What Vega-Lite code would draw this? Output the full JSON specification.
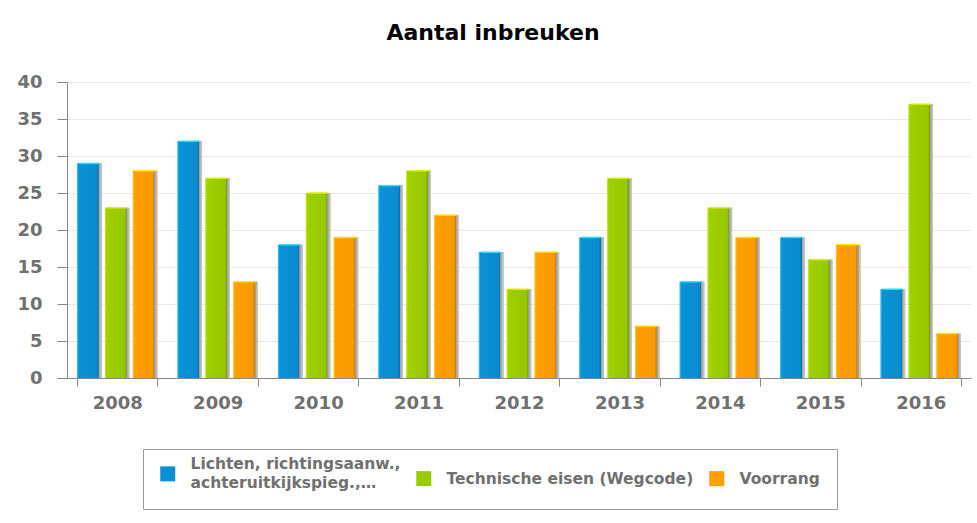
{
  "$schema": "https://vega.github.io/schema/vega-lite/v6.json",
  "width": 904,
  "height": 296,
  "autosize": {"type": "none"},
  "padding": {"left": 67, "top": 82, "right": 6, "bottom": 145},
  "background": "white",
  "title": {"text": "Aantal inbreuken", "font": "DejaVu Sans", "fontSize": 22, "fontWeight": "bold", "color": "#000000", "offset": 28, "dx": -26, "anchor": "middle"},
  "data": {"values": [
    {"year": "2008", "series": "Lichten, richtingsaanw., achteruitkijkspieg.,…", "value": 29},
    {"year": "2008", "series": "Technische eisen (Wegcode)", "value": 23},
    {"year": "2008", "series": "Voorrang", "value": 28},
    {"year": "2009", "series": "Lichten, richtingsaanw., achteruitkijkspieg.,…", "value": 32},
    {"year": "2009", "series": "Technische eisen (Wegcode)", "value": 27},
    {"year": "2009", "series": "Voorrang", "value": 13},
    {"year": "2010", "series": "Lichten, richtingsaanw., achteruitkijkspieg.,…", "value": 18},
    {"year": "2010", "series": "Technische eisen (Wegcode)", "value": 25},
    {"year": "2010", "series": "Voorrang", "value": 19},
    {"year": "2011", "series": "Lichten, richtingsaanw., achteruitkijkspieg.,…", "value": 26},
    {"year": "2011", "series": "Technische eisen (Wegcode)", "value": 28},
    {"year": "2011", "series": "Voorrang", "value": 22},
    {"year": "2012", "series": "Lichten, richtingsaanw., achteruitkijkspieg.,…", "value": 17},
    {"year": "2012", "series": "Technische eisen (Wegcode)", "value": 12},
    {"year": "2012", "series": "Voorrang", "value": 17},
    {"year": "2013", "series": "Lichten, richtingsaanw., achteruitkijkspieg.,…", "value": 19},
    {"year": "2013", "series": "Technische eisen (Wegcode)", "value": 27},
    {"year": "2013", "series": "Voorrang", "value": 7},
    {"year": "2014", "series": "Lichten, richtingsaanw., achteruitkijkspieg.,…", "value": 13},
    {"year": "2014", "series": "Technische eisen (Wegcode)", "value": 23},
    {"year": "2014", "series": "Voorrang", "value": 19},
    {"year": "2015", "series": "Lichten, richtingsaanw., achteruitkijkspieg.,…", "value": 19},
    {"year": "2015", "series": "Technische eisen (Wegcode)", "value": 16},
    {"year": "2015", "series": "Voorrang", "value": 18},
    {"year": "2016", "series": "Lichten, richtingsaanw., achteruitkijkspieg.,…", "value": 12},
    {"year": "2016", "series": "Technische eisen (Wegcode)", "value": 37},
    {"year": "2016", "series": "Voorrang", "value": 6}
  ]},
  "encoding": {
    "x": {
      "field": "year", "type": "nominal",
      "scale": {"paddingInner": 0.2, "paddingOuter": 0.1},
      "axis": {"title": null, "labelAngle": 0, "tickBand": "extent", "tickSize": 8, "tickColor": "#888888", "domainColor": "#888888", "labelFont": "DejaVu Sans", "labelFontWeight": "bold", "labelFontSize": 18, "labelColor": "#707070", "labelPadding": 8, "grid": false}
    },
    "xOffset": {
      "field": "series",
      "scale": {"domain": ["Lichten, richtingsaanw., achteruitkijkspieg.,…", "Technische eisen (Wegcode)", "Voorrang"], "paddingInner": 0.12}
    },
    "y": {
      "field": "value", "type": "quantitative",
      "scale": {"domain": [0, 40]},
      "axis": {"title": null, "values": [0, 5, 10, 15, 20, 25, 30, 35, 40], "tickSize": 10, "labelPadding": 15, "gridColor": "#e6e6e6", "domainColor": "#888888", "tickColor": "#888888", "labelFont": "DejaVu Sans", "labelFontWeight": "bold", "labelFontSize": 18, "labelColor": "#707070"}
    }
  },
  "layer": [
    {
      "mark": {"type": "bar"},
      "encoding": {
        "color": {
          "field": "series", "type": "nominal",
          "scale": {"domain": ["Lichten, richtingsaanw., achteruitkijkspieg.,…", "Technische eisen (Wegcode)", "Voorrang"], "range": ["#0a8fd3", "#99cc00", "#ffa000"]},
          "legend": {
            "orient": "none", "legendX": 76, "legendY": 367, "direction": "horizontal", "columns": 3, "title": null,
            "strokeColor": "#999999", "padding": 17,
            "symbolType": "square", "symbolSize": 225, "symbolStrokeWidth": 0, "symbolOpacity": 1,
            "labelOffset": 15, "columnPadding": 15,
            "labelFont": "DejaVu Sans", "labelFontSize": 15.5, "labelFontWeight": "bold", "labelColor": "#707070", "labelLimit": 400,
            "labelExpr": "indexof(datum.label, 'achter') > 0 ? ['Lichten, richtingsaanw.,', 'achteruitkijkspieg.,…'] : datum.label",
            "encoding": {"labels": {"lineHeight": {"value": 19}, "dy": {"condition": {"test": "indexof(datum.value, 'achter') > 0", "value": -9.5}, "value": 0}}}
          }
        }
      }
    },
    {
      "mark": {"type": "bar"},
      "encoding": {
        "fill": {
          "condition": [
            {"test": "datum.series == 'Voorrang'", "value": {"gradient": "linear", "x1": 0, "y1": 0, "x2": 1, "y2": 0, "stops": [{"offset": 0, "color": "#ffd040"}, {"offset": 0.06, "color": "#ffa000"}, {"offset": 0.8, "color": "#f59a00"}, {"offset": 0.87, "color": "#d08000"}, {"offset": 0.88, "color": "#9a9a9a"}, {"offset": 1, "color": "#d0d0d0"}]}},
            {"test": "datum.series == 'Technische eisen (Wegcode)'", "value": {"gradient": "linear", "x1": 0, "y1": 0, "x2": 1, "y2": 0, "stops": [{"offset": 0, "color": "#ddee30"}, {"offset": 0.06, "color": "#a0d000"}, {"offset": 0.8, "color": "#96c800"}, {"offset": 0.87, "color": "#7aa200"}, {"offset": 0.88, "color": "#9a9a9a"}, {"offset": 1, "color": "#d0d0d0"}]}}
          ],
          "value": {"gradient": "linear", "x1": 0, "y1": 0, "x2": 1, "y2": 0, "stops": [{"offset": 0, "color": "#40d8ff"}, {"offset": 0.06, "color": "#0a92d6"}, {"offset": 0.8, "color": "#0a8bcf"}, {"offset": 0.87, "color": "#0872a8"}, {"offset": 0.88, "color": "#9a9a9a"}, {"offset": 1, "color": "#d0d0d0"}]}
        }
      }
    },
    {
      "mark": {"type": "tick", "size": 20, "thickness": 1.5, "opacity": 1},
      "encoding": {
        "color": {
          "condition": [
            {"test": "datum.series == 'Voorrang'", "value": "#ffe000"},
            {"test": "datum.series == 'Technische eisen (Wegcode)'", "value": "#e0f000"}
          ],
          "value": "#30e0ff"
        }
      }
    }
  ],
  "config": {"view": {"stroke": null}}
}
